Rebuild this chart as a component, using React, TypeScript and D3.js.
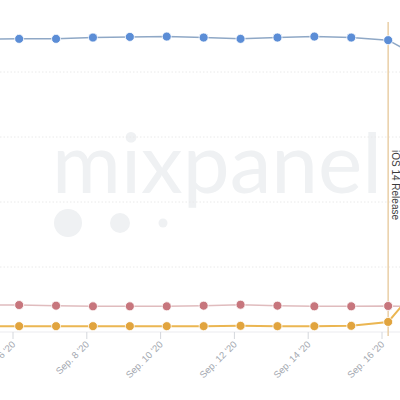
import React, { useEffect, useRef } from 'react';
import * as d3 from 'd3';

// daily share (%) of active iOS devices, one point per day
const days = [5, 6, 7, 8, 9, 10, 11, 12, 13, 14, 15, 16, 17];
const ios13 = [90.1, 90.2, 90.2, 90.6, 90.8, 90.9, 90.6, 90.2, 90.6, 90.9, 90.6, 89.8, 83.5];
const ios12 = [8.3, 8.3, 8.1, 7.9, 7.9, 7.9, 8.1, 8.4, 8.1, 7.9, 7.9, 8.0, 7.8];
const ios14 = [1.8, 1.8, 1.8, 1.8, 1.8, 1.8, 1.8, 1.9, 1.8, 1.8, 1.9, 3.1, 16.5];
const gridValues = [20, 40, 60, 80];
const tickDays = [6, 8, 10, 12, 14, 16];
const releaseDay = 16;
const releaseLabel = 'iOS 14 Release';

const sampleHour = 4;
const toDate = (d: number, h = 0) => new Date(2020, 8, d, h);

const series = [
  { name: 'iOS 13', values: ios13, line: '#8fa8c6', dot: '#5b8dd6', width: 1.5 },
  { name: 'iOS 12', values: ios12, line: '#e0bcbe', dot: '#c7767d', width: 1.5 },
  { name: 'iOS 14', values: ios14, line: '#ebb652', dot: '#e1a43e', width: 2 },
];

const App: React.FC = () => {
  const svgRef = useRef<SVGSVGElement>(null);
  const width = 400;
  const height = 400;

  useEffect(() => {
    if (!svgRef.current) return;
    const svg = d3.select(svgRef.current);
    svg.selectAll('*').remove();

    const x = d3.scaleTime()
      .domain([toDate(6), toDate(16)])
      .range([13, 382]);
    const y = d3.scaleLinear()
      .domain([0, 100])
      .range([332, 7]);

    // watermark
    const wm = svg.append('g').attr('fill', '#eff1f3');
    wm.append('text')
      .attr('x', 52)
      .attr('y', 193)
      .attr('font-family', 'Lato, sans-serif')
      .attr('font-size', 84)
      .attr('textLength', 330)
      .attr('lengthAdjust', 'spacingAndGlyphs')
      .text('mixpanel');
    [[68, 14], [120, 10], [163, 4.5]].forEach(([cx, r]) => {
      wm.append('circle').attr('cx', cx).attr('cy', 223).attr('r', r);
    });

    // grid
    svg.append('g')
      .selectAll('line')
      .data(gridValues)
      .join('line')
      .attr('x1', 0)
      .attr('x2', width)
      .attr('y1', d => y(d))
      .attr('y2', d => y(d))
      .attr('stroke', '#eaeaea')
      .attr('stroke-dasharray', '1.5,2');

    svg.append('line')
      .attr('x1', 0).attr('x2', width)
      .attr('y1', y(0)).attr('y2', y(0))
      .attr('stroke', '#ebebef');

    // x axis ticks + labels
    const ticks = svg.append('g')
      .selectAll('g')
      .data(tickDays)
      .join('g')
      .attr('transform', d => `translate(${x(toDate(d))},${y(0)})`);
    ticks.append('line')
      .attr('y1', 0).attr('y2', 7)
      .attr('stroke', '#d4d7dc');
    ticks.append('text')
      .attr('transform', 'translate(3,13) rotate(-45)')
      .attr('text-anchor', 'end')
      .attr('font-family', 'Helvetica, Arial, sans-serif')
      .attr('font-size', 9.5)
      .attr('fill', '#a3a8b0')
      .text(d => `Sep. ${d} '20`);

    // release annotation
    const rx = x(toDate(releaseDay, sampleHour));
    svg.append('line')
      .attr('x1', rx).attr('x2', rx)
      .attr('y1', 22).attr('y2', y(0) + 4)
      .attr('stroke', '#e9cfa6')
      .attr('stroke-width', 1.5);
    svg.append('text')
      .attr('transform', `translate(${rx + 4},185) rotate(90)`)
      .attr('text-anchor', 'middle')
      .attr('font-family', 'Helvetica, Arial, sans-serif')
      .attr('font-size', 10)
      .attr('fill', '#3a3a3a')
      .text(releaseLabel);

    // series
    const line = d3.line<number>()
      .x((_, i) => x(toDate(days[i], sampleHour)))
      .y(d => y(d));

    series.forEach(s => {
      const g = svg.append('g');
      g.append('path')
        .datum(s.values)
        .attr('fill', 'none')
        .attr('stroke', s.line)
        .attr('stroke-width', s.width)
        .attr('d', line);
      g.selectAll('circle')
        .data(s.values)
        .join('circle')
        .attr('cx', (_, i) => x(toDate(days[i], sampleHour)))
        .attr('cy', d => y(d))
        .attr('r', 4.5)
        .attr('fill', s.dot)
        .attr('stroke', '#fff')
        .attr('stroke-width', 0.8);
    });
  }, []);

  return (
    <svg
      ref={svgRef}
      width={width}
      height={height}
      style={{ position: 'absolute', left: 0, top: 0, background: '#fff' }}
    />
  );
};

export default App;
